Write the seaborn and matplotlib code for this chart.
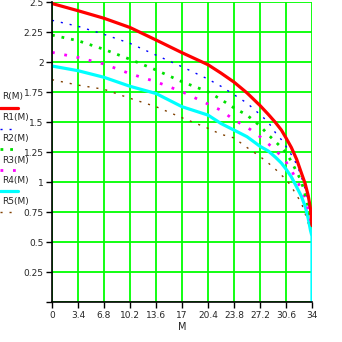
import matplotlib
matplotlib.use("Agg")
import matplotlib.pyplot as plt
from matplotlib.lines import Line2D
import seaborn as sns

# ---- data ----
M = [0, 3.4, 6.8, 10.2, 13.6, 17, 20.4, 22.1, 23.8, 25.5, 27.2, 28.3, 29.2,
     30.0, 30.6, 31.3, 32.0, 32.6, 33.1, 33.5, 33.8, 34.0]
R  = [2.49, 2.43, 2.367, 2.29, 2.186, 2.08, 1.98, 1.91, 1.835, 1.745, 1.64, 1.565, 1.50,
      1.435, 1.37, 1.29, 1.19, 1.08, 0.99, 0.89, 0.78, 0.64]
R1 = [2.35, 2.30, 2.233, 2.158, 2.06, 1.963, 1.86, 1.80, 1.73, 1.66, 1.565, 1.50, 1.415,
      1.355, 1.30, 1.23, 1.15, 1.05, 0.945, 0.85, 0.74, 0.62]
R2 = [2.227, 2.18, 2.108, 2.025, 1.936, 1.838, 1.755, 1.69, 1.62, 1.56, 1.47, 1.395, 1.34,
      1.29, 1.245, 1.175, 1.086, 1.01, 0.90, 0.795, 0.70, 0.62]
R3 = [2.083, 2.04, 1.986, 1.905, 1.838, 1.755, 1.652, 1.60, 1.52, 1.46, 1.38, 1.32, 1.27,
      1.215, 1.17, 1.10, 1.02, 0.94, 0.875, 0.78, 0.69, 0.62]
R4 = [1.969, 1.93, 1.875, 1.80, 1.74, 1.63, 1.56, 1.49, 1.435, 1.38, 1.30, 1.26, 1.21,
      1.16, 1.11, 1.045, 0.96, 0.885, 0.80, 0.70, 0.60, 0.55]
R5 = [1.855, 1.81, 1.775, 1.70, 1.63, 1.538, 1.45, 1.40, 1.37, 1.29, 1.215, 1.16, 1.11,
      1.06, 1.025, 0.965, 0.89, 0.83, 0.74, 0.66, 0.62, 0.60]
R4_tail_M = [34.0]
R4_tail = [0.0]

labels = ["R(M)", "R1(M)", "R2(M)", "R3(M)", "R4(M)", "R5(M)"]
xticks = [0, 3.4, 6.8, 10.2, 13.6, 17, 20.4, 23.8, 27.2, 30.6, 34]
xticklabels = ["0", "3.4", "6.8", "10.2", "13.6", "17", "20.4", "23.8", "27.2", "30.6", "34"]
yticks = [0, 0.25, 0.5, 0.75, 1, 1.25, 1.5, 1.75, 2, 2.25, 2.5]
yticklabels = ["", "0.25", "0.5", "0.75", "1", "1.25", "1.5", "1.75", "2", "2.25", "2.5"]

sns.set_style("white")
plt.rcParams['font.family'] = ['DejaVu Sans']

fig = plt.figure(figsize=(3.42, 3.42), dpi=100)
ax = fig.add_axes([52/342, 1 - 302.3/342, 260/342, 300/342])

styles = [
    dict(color="#ff0000", lw=2.3, ls="-"),
    dict(color="#0000ff", lw=1.0, ls=(0, (1.5, 5))),
    dict(color="#00e000", lw=2.0, ls=(0, (1, 2.5))),
    dict(color="#ff00ff", lw=2.0, ls=(0, (1, 3.5))),
    dict(color="#00ffff", lw=2.3, ls="-"),
    dict(color="#804000", lw=1.0, ls=(0, (1.5, 5))),
]

series = [R, R1, R2, R3, R4, R5]
for i, (ys, st) in enumerate(zip(series, styles)):
    xs = list(M)
    yv = list(ys)
    if i == 4:
        xs = xs + R4_tail_M
        yv = yv + R4_tail
    sns.lineplot(x=xs, y=yv, ax=ax, estimator=None, sort=False,
                 color=st["color"], linewidth=st["lw"], linestyle=st["ls"],
                 zorder=3 + (6 - i))

ax.set_xlim(0, 34)
ax.set_ylim(0, 2.5)
ax.set_xticks(xticks)
ax.set_xticklabels(xticklabels)
ax.set_yticks(yticks)
ax.set_yticklabels(yticklabels)
ax.grid(True, color="#00ff00", lw=1.3, zorder=1)
ax.set_axisbelow(True)
for s in ["top", "right"]:
    ax.spines[s].set_visible(False)
for s in ["left", "bottom"]:
    ax.spines[s].set_color("black")
    ax.spines[s].set_linewidth(1.2)
    ax.spines[s].set_zorder(10)
ax.tick_params(axis="both", which="both", direction="out", length=4, width=1,
               color="black", labelsize=6.5, pad=2, left=True, bottom=True)
ax.set_xlabel("M", fontsize=7, labelpad=2)
ax.set_ylabel("")

# legend on the left: label above sample line
text_y = [96.5, 117.5, 138.5, 160, 180.5, 201]
line_y = [108, 129, 149.3, 170, 191, 211.7]
for lab, ty, ly, st in zip(labels, text_y, line_y, styles):
    fig.text(2/342, 1 - ty/342, lab, fontsize=6.5, ha="left", va="center")
    fig.add_artist(Line2D([0, 18/342], [1 - ly/342, 1 - ly/342],
                          transform=fig.transFigure, color=st["color"],
                          lw=st["lw"], ls=st["ls"]))

fig.savefig("out.png", dpi=100)
